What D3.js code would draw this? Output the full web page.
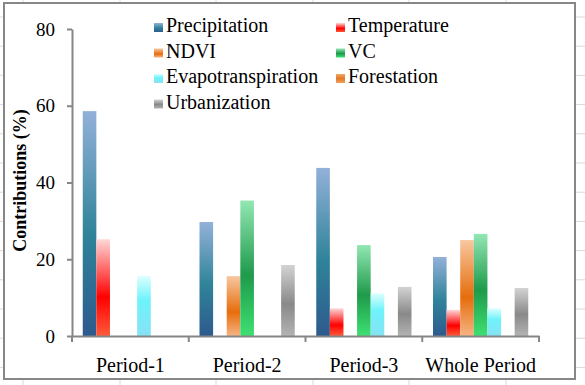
<!DOCTYPE html>
<html>
<head>
<meta charset="utf-8">
<script src="https://cdn.jsdelivr.net/npm/d3@7"></script>
<style>
body { margin: 0; background: #fff; }
svg text { font-family: "Liberation Serif", "DejaVu Serif", serif !important; fill: #000; }
</style>
</head>
<body>
<div id="chart-area"></div>
<script>

// 数据
const periods = ["Period-1", "Period-2", "Period-3", "Whole Period"];
const factors = ["Precipitation", "Temperature", "NDVI", "VC", "Evapotranspiration", "Forestation", "Urbanization"];
const precipitation = [58.6, 29.7, 43.8, 20.6];
const temperature = [25.2, 0, 7.2, 6.8];
const ndvi = [0, 15.6, 0, 25.0];
const vc = [0, 35.3, 23.7, 26.6];
const evapotranspiration = [15.6, 0, 11.1, 7.2];
const forestation = [0, 0, 0, 0];
const urbanization = [0, 18.5, 12.8, 12.5];
const yTicks = [0, 20, 40, 60, 80];

const series = [precipitation, temperature, ndvi, vc, evapotranspiration, forestation, urbanization];

const width = 585, height = 385;
const margin = {top: 29, right: 46, bottom: 49, left: 72};
const serif = "'Liberation Serif', 'DejaVu Serif', serif";

// 每个系列的渐变色 (上, 中, 下)
const gradients = {
	"Precipitation": [["0%", "#93b1d9"], ["55%", "#2f8399"], ["100%", "#2e5a8e"]],
	"Temperature": [["0%", "#ffd6d6"], ["60%", "#ff0000"], ["100%", "#ff5b3a"]],
	"NDVI": [["0%", "#f8c7a0"], ["60%", "#e66d0c"], ["100%", "#f7b484"]],
	"VC": [["0%", "#92e7b3"], ["55%", "#1f9a4b"], ["100%", "#3ee072"]],
	"Evapotranspiration": [["0%", "#dcffff"], ["40%", "#6ef3fb"], ["100%", "#86e2f3"]],
	"Forestation": [["0%", "#f2a76a"], ["50%", "#e07a25"], ["100%", "#f0a060"]],
	"Urbanization": [["0%", "#d3d3d3"], ["55%", "#898989"], ["100%", "#b3b3b3"]]
};

var svg = d3.select("#chart-area").append("svg")
	.attr("width", width)
	.attr("height", height)
	.style("font-family", serif);

// 背景表格线
const gridX = [23, 120, 216, 313, 409, 506];
const gridY = d3.range(13).map(i => 17 + i * 29.2);
svg.selectAll(".gx").data(gridX).enter().append("line")
	.attr("x1", d => d).attr("x2", d => d).attr("y1", 0).attr("y2", height)
	.attr("stroke", "#dadada").attr("stroke-width", 1);
svg.selectAll(".gy").data(gridY).enter().append("line")
	.attr("y1", d => d).attr("y2", d => d).attr("x1", 0).attr("x2", width)
	.attr("stroke", "#dadada").attr("stroke-width", 1);

// 图表外框
svg.append("rect")
	.attr("x", 4).attr("y", 3)
	.attr("width", 571).attr("height", 376)
	.attr("fill", "#fff")
	.attr("stroke", "#878787")
	.attr("stroke-width", 2);

var defs = svg.append("defs");
factors.forEach((f, i) => {
	var g = defs.append("linearGradient")
		.attr("id", "grad" + i)
		.attr("x1", 0).attr("y1", 0).attr("x2", 0).attr("y2", 1);
	gradients[f].forEach(s => {
		g.append("stop").attr("offset", s[0]).attr("stop-color", s[1]);
	});
});

// 比例尺
var x0 = d3.scaleBand()
	.domain(periods)
	.range([margin.left, width - margin.right]);

var x1 = d3.scaleBand()
	.domain(factors)
	.range([0, x0.bandwidth()])
	.paddingOuter(0.79);

var y = d3.scaleLinear()
	.domain([0, 80])
	.range([height - margin.bottom, margin.top]);

// 条形图
var groups = svg.selectAll(".group")
	.data(periods)
	.enter().append("g")
	.attr("class", "group")
	.attr("transform", d => `translate(${x0(d)},0)`);

groups.selectAll("rect")
	.data((p, pi) => factors.map((f, fi) => ({f: f, i: fi, v: series[fi][pi]})).filter(d => d.v > 0))
	.enter().append("rect")
	.attr("x", d => x1(d.f))
	.attr("y", d => y(d.v))
	.attr("width", x1.bandwidth())
	.attr("height", d => y(0) - y(d.v))
	.attr("fill", d => `url(#grad${d.i})`);

// y轴
var yAxis = svg.append("g")
	.attr("transform", `translate(${margin.left},0)`)
	.call(d3.axisLeft(y).tickValues(yTicks).tickSize(5).tickSizeOuter(0).tickPadding(12));
yAxis.attr("font-family", serif);
yAxis.selectAll("text").style("font-size", "19px").style("font-family", serif);
yAxis.selectAll("line").attr("stroke", "#868686").attr("stroke-width", 2);
yAxis.select(".domain").attr("stroke", "#868686").attr("stroke-width", 2);

// x轴
var xAxis = svg.append("g")
	.attr("transform", `translate(0,${y(0)})`)
	.call(d3.axisBottom(x0).tickSize(0).tickSizeOuter(0).tickPadding(22));
xAxis.attr("font-family", serif);
xAxis.selectAll("text").style("font-size", "20px").style("font-family", serif);
xAxis.select(".domain").attr("stroke", "#868686").attr("stroke-width", 2);

var bounds = periods.map(p => x0(p)).concat([x0.range()[1]]);
xAxis.selectAll(".bound").data(bounds).enter().append("line")
	.attr("class", "bound")
	.attr("x1", d => d).attr("x2", d => d)
	.attr("y1", 0).attr("y2", 6)
	.attr("stroke", "#868686").attr("stroke-width", 2);

// y轴标题
svg.append("text")
	.attr("transform", `translate(26,${(y(0) + y(80)) / 2 - 2}) rotate(-90)`)
	.attr("text-anchor", "middle")
	.style("font-family", serif)
	.style("font-size", "18px")
	.style("font-weight", "bold")
	.text("Contributions (%)");

// 图例
var legend = svg.append("g").attr("class", "legend");
factors.forEach((f, i) => {
	var col = i % 2, row = Math.floor(i / 2);
	var lx = col === 0 ? 154 : 336;
	var ly = 32 + row * 25.5;
	legend.append("rect")
		.attr("x", lx).attr("y", ly - 9)
		.attr("width", 9).attr("height", 9)
		.attr("fill", `url(#grad${i})`);
	legend.append("text")
		.attr("x", lx + 12).attr("y", ly)
		.style("font-family", serif)
		.style("font-size", "20px")
		.text(f);
});

</script>
</body>
</html>
